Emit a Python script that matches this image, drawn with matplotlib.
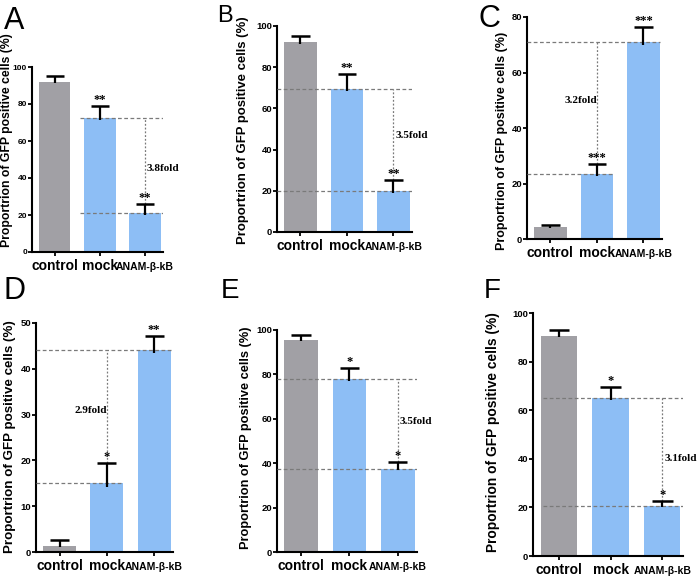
import numpy as np
import matplotlib
matplotlib.use("Agg")
import matplotlib.pyplot as plt

# data
groups = ["control", "mock", "ANAM-\u03b2-kB"]
panels = ["A", "B", "C", "D", "E", "F"]
means = {
    "A": [92, 72.5, 21],
    "B": [92, 69.5, 20],
    "C": [4.3, 23.5, 71],
    "D": [1.3, 15, 44],
    "E": [95.5, 78, 37.5],
    "F": [90.5, 65, 20.5],
}
errs = {
    "A": [3, 6.5, 5],
    "B": [3, 7, 5],
    "C": [0.8, 3.5, 5.5],
    "D": [1.4, 4.5, 3.2],
    "E": [2.2, 5, 3],
    "F": [2.5, 4.5, 2],
}
stars = {
    "A": ["", "**", "**"],
    "B": ["", "**", "**"],
    "C": ["", "***", "***"],
    "D": ["", "*", "**"],
    "E": ["", "*", "*"],
    "F": ["", "*", "*"],
}
folds = {"A": "3.8fold", "B": "3.5fold", "C": "3.2fold",
         "D": "2.9fold", "E": "3.5fold", "F": "3.1fold"}
fold_y = {"A": 45, "B": 47, "C": 50, "D": 31, "E": 59, "F": 40}
ymax = {"A": 100, "B": 100, "C": 80, "D": 50, "E": 100, "F": 100}
ystep = {"A": 20, "B": 20, "C": 20, "D": 10, "E": 20, "F": 20}

W, H = 700, 579
# axes boxes in pixels: left, right, top, bottom
boxes = {
    "A": (32, 163, 67, 252),
    "B": (277, 412, 26, 232),
    "C": (527, 662, 17, 239),
    "D": (36, 173, 323, 552),
    "E": (277, 417, 330, 552),
    "F": (533, 683, 313, 556),
}
# y label centre (px) and length wanted (px)
ylab_pos = {"A": (7.5, 140, 214), "B": (243, 130, 228), "C": (502, 141, 218),
            "D": (10, 437, 233), "E": (246, 438, 223), "F": (493, 432, 240)}
letter_pos = {"A": (4, 6, 22), "B": (217, 5, 17), "C": (479, 4, 22),
              "D": (4, 276, 22), "E": (221, 278, 20), "F": (484, 278, 20)}
ytick_size = {"A": 6, "B": 6.8, "C": 6.8, "D": 6.8, "E": 6.8, "F": 6.8}
xlab_size = [10, 10, 7.5]

gray = "#a1a0a5"
blue = "#8dbef5"
sans = ["Liberation Sans", "DejaVu Sans"]
serif = ["Liberation Serif", "DejaVu Serif"]

fig = plt.figure(figsize=(W / 100, H / 100), dpi=100)
x = np.arange(3)
renderer = fig.canvas.get_renderer()


def fit_length(txt, target):
    ext = txt.get_window_extent(renderer)
    txt.set_fontsize(txt.get_fontsize() * target / ext.height)


for p in panels:
    l, r, t, b = boxes[p]
    ax = fig.add_axes([l / W, 1 - b / H, (r - l) / W, (b - t) / H])
    m = np.array(means[p])
    e = np.array(errs[p])
    ax.bar(x, m, width=0.7, color=[gray, blue, blue], zorder=2)
    ax.errorbar(x, m, yerr=[np.minimum(e * 0.2, 1.0), e], fmt="none",
                ecolor="black", elinewidth=1.6, capsize=0, zorder=4)
    ax.hlines(m + e, x - 0.2, x + 0.2, color="black", lw=1.8, zorder=4)
    for i in range(3):
        if stars[p][i]:
            ax.annotate(stars[p][i], (x[i], m[i] + e[i]), xytext=(0, 0),
                        textcoords="offset points", ha="center", va="bottom",
                        fontsize=9, fontweight="bold", family=serif, zorder=5)

    top_v = max(m[1], m[2])
    bot_v = min(m[1], m[2])
    ibot = 1 if m[1] < m[2] else 2
    # horizontal reference lines
    if p == "A":
        x0a, x0b, x1a, x1b = 0.56, 0.56, 2.4, 2.4
    elif p in ("C", "D"):
        x0a, x0b, x1a, x1b = -0.5, -0.5, 2.35, 1.35
    elif p == "F":
        x0a, x0b, x1a, x1b = -0.3, -0.3, 2.42, 2.42
    else:
        x0a, x0b, x1a, x1b = -0.5, -0.5, 2.4, 2.4
    dash = dict(color="#7a7a7a", lw=0.9, ls=(0, (3, 2)), zorder=3)
    ax.hlines(top_v, x0a, x1a, **dash)
    ax.hlines(bot_v, x0b, x1b, **dash)
    xv = x[ibot]
    ax.vlines(xv, m[ibot] + e[ibot], top_v, color="#7a7a7a", lw=0.9,
              ls=(0, (1.5, 1.5)), zorder=3)
    if p in ("C", "D"):
        ax.text(xv, fold_y[p], folds[p], ha="right", va="center",
                fontsize=8, fontweight="bold", family=serif, zorder=5)
    else:
        ax.text(xv + 0.04, fold_y[p], folds[p], ha="left", va="center",
                fontsize=8, fontweight="bold", family=serif, zorder=5)

    ax.set_xlim(-0.5, 2.4)
    ax.set_ylim(0, ymax[p])
    ax.set_yticks(np.arange(0, ymax[p] + 1, ystep[p]))
    for s in ("top", "right"):
        ax.spines[s].set_visible(False)
    for s in ("left", "bottom"):
        ax.spines[s].set_linewidth(1.5)
    ax.tick_params(axis="both", direction="out", length=2.8, width=1.3)
    ax.set_xticks(x)
    ax.set_xticklabels(groups)
    for i, lab in enumerate(ax.get_xticklabels()):
        lab.set_family(sans)
        lab.set_fontweight("bold")
        lab.set_fontsize(xlab_size[i])
        lab.set_verticalalignment("baseline")
    for lab in ax.get_yticklabels():
        lab.set_family(sans)
        lab.set_fontweight("bold")
        lab.set_fontsize(ytick_size[p])
    ax.tick_params(axis="x", pad=10)
    ax.tick_params(axis="y", pad=0.8)

    lx, ly, llen = ylab_pos[p]
    txt = fig.text(lx / W, 1 - ly / H, "Proportrion of GFP positive cells (%)",
                   rotation=90, ha="center", va="center",
                   fontsize=10, fontweight="bold", family=sans)
    fit_length(txt, llen)
    tx, ty, th = letter_pos[p]
    fig.text(tx / W, 1 - ty / H, p, ha="left", va="top", fontsize=th,
             family=sans)

fig.savefig("out.png", dpi=100)
